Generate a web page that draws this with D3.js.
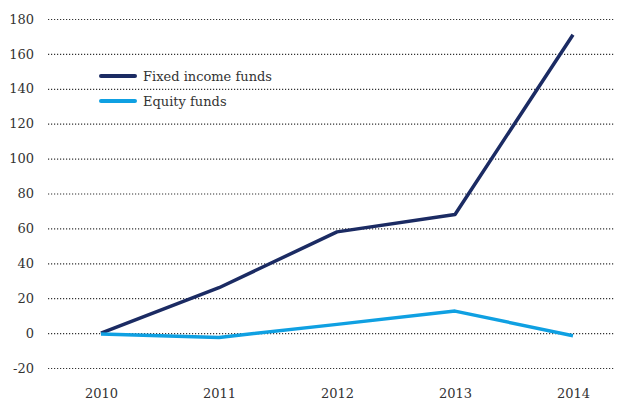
<!DOCTYPE html>
<html>
<head>
<meta charset="utf-8">
<script src="https://cdn.jsdelivr.net/npm/d3@7"></script>
<style>
body { margin: 0; background: #fff; }
svg text { font-family: Georgia, "DejaVu Serif", "Liberation Serif", serif; fill: #333; }
</style>
</head>
<body>
<svg width="620" height="401"></svg>
<script>
var years = [2010, 2011, 2012, 2013, 2014];
var fixedIncome = [0, 26, 58, 68, 171];
var equity = [-0.5, -2.5, 5, 12.6, -1.5];
var yTicks = [-20, 0, 20, 40, 60, 80, 100, 120, 140, 160, 180];

var series = [
    { name: "Fixed income funds", values: fixedIncome, color: "#1b2b63" },
    { name: "Equity funds", values: equity, color: "#0fa0e2" }
];

var svg = d3.select("svg");

var x = d3.scalePoint().domain(years).range([101, 573]);
var y = d3.scaleLinear().domain([-20, 180]).range([368, 19]);

// grid + y labels
var yAxis = svg.append("g")
    .attr("transform", "translate(48,0)")
    .call(d3.axisLeft(y).tickValues(yTicks).tickSize(-567).tickPadding(14)
        .tickFormat(function (d) { return String(d); }));
yAxis.select(".domain").remove();
yAxis.selectAll(".tick line")
    .attr("stroke", "#333")
    .attr("stroke-width", 1.2)
    .attr("stroke-dasharray", "1.2,1.8");
yAxis.selectAll(".tick text")
    .attr("font-size", 13)
    .attr("font-family", null);

var xAxis = svg.append("g")
    .attr("transform", "translate(0,380)")
    .call(d3.axisBottom(x).tickSize(0).tickPadding(9));
xAxis.select(".domain").remove();
xAxis.selectAll(".tick text")
    .attr("font-size", 13)
    .attr("font-family", null);

var line = d3.line()
    .x(function (d, i) { return x(years[i]); })
    .y(function (d) { return y(d); });

svg.selectAll("path.series")
    .data(series)
    .enter().append("path")
    .attr("class", "series")
    .attr("fill", "none")
    .attr("stroke", function (d) { return d.color; })
    .attr("stroke-width", 3.5)
    .attr("stroke-linejoin", "round")
    .attr("d", function (d) { return line(d.values); });

// legend
var legend = svg.selectAll("g.legend")
    .data(series)
    .enter().append("g")
    .attr("class", "legend")
    .attr("transform", function (d, i) { return "translate(101," + (76 + i * 25) + ")"; });
legend.append("line")
    .attr("x1", 0).attr("x2", 34)
    .attr("stroke", function (d) { return d.color; })
    .attr("stroke-width", 4)
    .attr("stroke-linecap", "round");
legend.append("text")
    .attr("x", 42)
    .attr("dy", "0.35em")
    .attr("font-size", 13)
    .text(function (d) { return d.name; });
</script>
</body>
</html>
